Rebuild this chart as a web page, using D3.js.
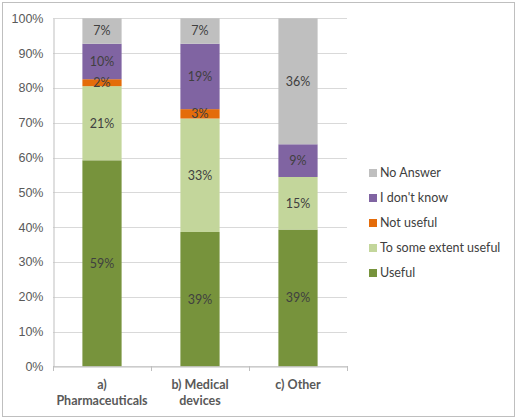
<!DOCTYPE html>
<html>
<head>
<meta charset="utf-8">
<script src="https://cdn.jsdelivr.net/npm/d3@7"></script>
<style>
  body { margin: 0; background: #fff; }
  svg { font-family: Lato, "Open Sans", sans-serif; }
</style>
</head>
<body>
<div id="chart"></div>
<script>
// categories on the x axis
const categories = ['a) Pharmaceuticals', 'b) Medical devices', 'c) Other'];
const categoryLines = [['a)', 'Pharmaceuticals'], ['b) Medical', 'devices'], ['c) Other']];

// series, bottom to top
const seriesNames = ['Useful', 'To some extent useful', 'Not useful', "I don't know", 'No Answer'];
const seriesColors = ['#77933c', '#c3d69b', '#e46c0a', '#8064a2', '#bfbfbf'];

// percent values per series, one per category
const useful = [59.2, 38.6, 39.3];
const someUseful = [21.3, 32.6, 15.1];
const notUseful = [2.0, 2.7, 0];
const dontKnow = [10.2, 18.8, 9.4];
const noAnswer = [7.3, 7.3, 36.2];

const yTicks = [0, 10, 20, 30, 40, 50, 60, 70, 80, 90, 100];

const seriesValues = [useful, someUseful, notUseful, dontKnow, noAnswer];
const table = categories.map((c, i) => {
  const row = { category: c };
  seriesNames.forEach((s, j) => { row[s] = seriesValues[j][i]; });
  return row;
});

const width = 516, height = 419;
const fontSize = '12.5px';
const svg = d3.select('#chart').append('svg')
  .attr('width', width)
  .attr('height', height);

// outer frame
svg.append('rect')
  .attr('x', 2.5).attr('y', 2.5)
  .attr('width', 512).attr('height', 414)
  .attr('fill', '#fff')
  .attr('stroke', '#bfbfbf')
  .attr('stroke-width', 1);

const plot = { left: 53, right: 347, top: 18.3, bottom: 366.3 };

const x = d3.scaleBand()
  .domain(categories)
  .range([plot.left, plot.right])
  .paddingInner(0.6)
  .paddingOuter(0.3);

const y = d3.scaleLinear()
  .domain([0, 100])
  .range([plot.bottom, plot.top]);

// gridlines
svg.append('g')
  .selectAll('line')
  .data(yTicks)
  .enter()
  .append('line')
  .attr('x1', plot.left)
  .attr('x2', plot.right)
  .attr('y1', d => Math.round(y(d)) + 0.5)
  .attr('y2', d => Math.round(y(d)) + 0.5)
  .style('stroke', '#d9d9d9')
  .style('stroke-width', 1);

// y axis
const yAxis = svg.append('g')
  .attr('transform', `translate(${plot.left + 0.5},0)`)
  .call(d3.axisLeft(y).tickValues(yTicks).tickFormat(d => d + '%').tickSize(0).tickPadding(10));
yAxis.select('.domain').style('stroke', '#bfbfbf');
yAxis.selectAll('text')
  .style('font-size', fontSize)
  .style('fill', '#595959');

// stacked bars
const stack = d3.stack().keys(seriesNames);
const layers = stack(table);

const layerG = svg.append('g')
  .selectAll('g')
  .data(layers)
  .enter()
  .append('g')
  .style('fill', (d, i) => seriesColors[i]);

layerG.selectAll('rect')
  .data(d => d)
  .enter()
  .append('rect')
  .attr('x', d => x(d.data.category))
  .attr('width', x.bandwidth())
  .attr('y', d => y(d[1]))
  .attr('height', d => y(d[0]) - y(d[1]));

// data labels
layers.forEach(layer => {
  svg.append('g')
    .selectAll('text')
    .data(layer.filter(d => d[1] - d[0] > 0))
    .enter()
    .append('text')
    .attr('x', d => x(d.data.category) + x.bandwidth() / 2)
    .attr('y', d => (y(d[0]) + y(d[1])) / 2)
    .attr('dy', '0.35em')
    .attr('text-anchor', 'middle')
    .style('font-size', fontSize)
    .style('fill', '#404040')
    .text(d => Math.round(d[1] - d[0]) + '%');
});

// x axis
const xAxis = svg.append('g')
  .attr('transform', `translate(0,${Math.round(plot.bottom) + 0.5})`)
  .call(d3.axisBottom(x).tickSize(0).tickFormat(''));
xAxis.select('.domain').style('stroke', '#bfbfbf');

// category separators
const sep = categories.map(c => x(c) - x.step() * x.paddingInner() / 2)
  .concat([plot.right]);
svg.append('g')
  .selectAll('line')
  .data(sep)
  .enter()
  .append('line')
  .attr('x1', d => Math.round(d) + 0.5)
  .attr('x2', d => Math.round(d) + 0.5)
  .attr('y1', Math.round(plot.bottom))
  .attr('y2', Math.round(plot.bottom) + 5)
  .style('stroke', '#bfbfbf');

// category labels
categoryLines.forEach((lines, i) => {
  const t = svg.append('text')
    .attr('x', x(categories[i]) + x.bandwidth() / 2)
    .attr('y', 389)
    .attr('text-anchor', 'middle')
    .style('font-size', fontSize)
    .style('font-weight', 'bold')
    .style('fill', '#595959');
  lines.forEach((l, k) => {
    t.append('tspan')
      .attr('x', x(categories[i]) + x.bandwidth() / 2)
      .attr('dy', k === 0 ? 0 : 16)
      .text(l);
  });
});

// legend, top entry is the last series
const legendData = seriesNames.map((s, i) => ({ name: s, color: seriesColors[i] })).reverse();
const legend = svg.append('g')
  .selectAll('.legend')
  .data(legendData)
  .enter()
  .append('g')
  .attr('class', 'legend')
  .attr('transform', (d, i) => `translate(369, ${173 + i * 25})`);

legend.append('rect')
  .attr('x', 0)
  .attr('y', -4)
  .attr('width', 8)
  .attr('height', 8)
  .style('fill', d => d.color);

legend.append('text')
  .attr('x', 11)
  .attr('y', 0)
  .attr('dy', '0.35em')
  .style('font-size', fontSize)
  .style('fill', '#404040')
  .text(d => d.name);
</script>
</body>
</html>
